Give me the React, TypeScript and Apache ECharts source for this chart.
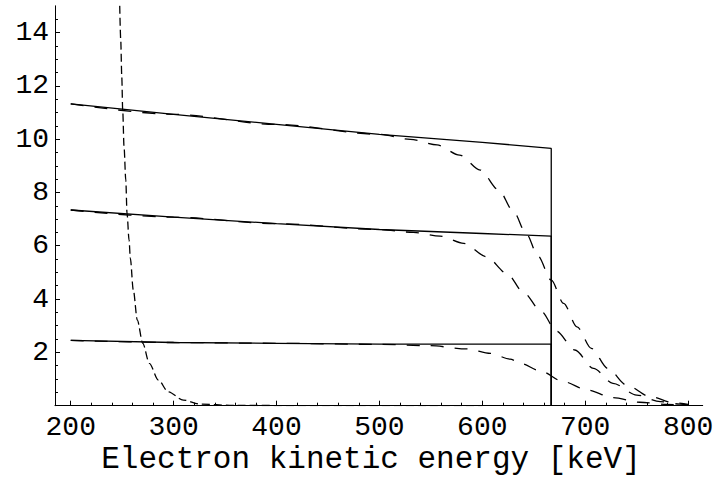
import React, { useEffect, useRef } from "react";
import * as echarts from "echarts";

// Solid curves (ideal spectra), ending with the vertical drop at the endpoint
const solidX = [200, 300, 400, 500, 600, 667, 667];
const topSolid = [11.32, 10.93, 10.55, 10.18, 9.88, 9.65, 0];
const midSolid = [7.34, 7.07, 6.83, 6.61, 6.46, 6.36, 0];
const lowSolid = [2.45, 2.37, 2.34, 2.31, 2.31, 2.31, 0];

// Long-dashed curves (resolution-smeared spectra)
const topDashX = [200, 300, 400, 500, 530, 556, 578, 598, 616, 630, 643, 654, 667, 679, 692, 706, 722, 740, 763, 786, 800];
const topDashY = [11.32, 10.93, 10.55, 10.18, 9.99, 9.78, 9.4, 8.84, 8.09, 7.3, 6.43, 5.62, 4.71, 3.84, 2.96, 2.15, 1.4, 0.78, 0.34, 0.11, 0.05];
const midDashX = [200, 300, 400, 500, 533, 559, 582, 604, 624, 640, 657, 672, 690, 708, 727, 750, 773, 792, 800];
const midDashY = [7.34, 7.07, 6.83, 6.61, 6.5, 6.36, 6.09, 5.59, 4.96, 4.25, 3.55, 2.8, 2.09, 1.4, 0.84, 0.4, 0.15, 0.06, 0.03];
const lowDashX = [200, 300, 400, 500, 549, 585, 608, 627, 637, 656, 679, 702, 727, 753, 779, 799];
const lowDashY = [2.45, 2.37, 2.34, 2.3, 2.25, 2.13, 1.96, 1.75, 1.59, 1.31, 0.9, 0.59, 0.3, 0.13, 0.05, 0.01];

// Short-dashed background curve
const bgX = [247.6, 248.6, 249.6, 250.5, 251.8, 253.5, 254.7, 256.7, 257.9, 260.8, 264.7, 270, 276.4, 285.1, 294.8, 309.4, 325.7, 357.7, 450, 550, 600];
const bgY = [15.0, 13.71, 12.34, 11.09, 9.71, 8.46, 7.21, 6.21, 5.53, 4.34, 3.21, 2.34, 1.59, 0.96, 0.52, 0.21, 0.06, 0.01, 0, 0, 0];

// Ticks
const xMajor = [200, 300, 400, 500, 600, 700, 800];
const xMinor = [220, 240, 260, 280, 320, 340, 360, 380, 420, 440, 460, 480, 520, 540, 560, 580, 620, 640, 660, 680, 720, 740, 760, 780];
const yMajor = [0, 2, 4, 6, 8, 10, 12, 14];
const yLabels = [2, 4, 6, 8, 10, 12, 14];
const yMinor = [0.5, 1, 1.5, 2.5, 3, 3.5, 4.5, 5, 5.5, 6.5, 7, 7.5, 8.5, 9, 9.5, 10.5, 11, 11.5, 12.5, 13, 13.5, 14.5];

const xTitle = "Electron kinetic energy [keV]";

const FONT = "'Courier New', Courier, 'Liberation Mono', monospace";

const zip = (xs: number[], ys: number[]) => xs.map((x, i) => [x, ys[i]]);

export default function App() {
  const ref = useRef<HTMLDivElement>(null);
  useEffect(() => {
    document.body.style.margin = "0";
    const chart = echarts.init(ref.current!, null, { renderer: "svg" });
    const xMin = 184.7;
    const xMax = 814.2;
    const solid = (d: number[][]) => ({
      type: "line",
      data: d,
      symbol: "none",
      lineStyle: { color: "#000", width: 1.3 },
      xAxisIndex: 0,
      yAxisIndex: 0,
      z: 3,
    });
    const dashed = (d: number[][], dash: number[]) => ({
      type: "line",
      data: d,
      symbol: "none",
      smooth: 0.3,
      smoothMonotone: "x",
      lineStyle: { color: "#000", width: 1.3, type: dash },
      xAxisIndex: 0,
      yAxisIndex: 0,
      z: 2,
    });
    chart.setOption({
      animation: false,
      backgroundColor: "#fff",
      grid: {
        left: 55,
        top: 5.8,
        width: 647.7,
        height: 399.9,
        containLabel: false,
        outerBoundsMode: "none",
      },
      xAxis: [
        {
          type: "value",
          min: xMin,
          max: xMax,
          position: "bottom",
          axisLine: { show: true, onZero: false, lineStyle: { color: "#000", width: 1 } },
          axisTick: { show: true, inside: true, length: 5, customValues: xMajor, lineStyle: { color: "#000" } },
          axisLabel: {
            show: true,
            customValues: xMajor,
            margin: 8,
            color: "#000",
            fontFamily: FONT,
            fontSize: 28,
          },
          splitLine: { show: false },
        },
        {
          type: "value",
          min: xMin,
          max: xMax,
          position: "bottom",
          axisLine: { show: false },
          axisTick: { show: true, inside: true, length: 3, customValues: xMinor, lineStyle: { color: "#000" } },
          axisLabel: { show: false },
          splitLine: { show: false },
        },
      ],
      yAxis: [
        {
          type: "value",
          min: 0,
          max: 15,
          position: "left",
          axisLine: { show: true, onZero: false, lineStyle: { color: "#000", width: 1 } },
          axisTick: { show: true, inside: true, length: 5, customValues: yMajor, lineStyle: { color: "#000" } },
          axisLabel: {
            show: true,
            customValues: yLabels,
            margin: 6,
            color: "#000",
            fontFamily: FONT,
            fontSize: 28,
          },
          splitLine: { show: false },
        },
        {
          type: "value",
          min: 0,
          max: 15,
          position: "left",
          axisLine: { show: false },
          axisTick: { show: true, inside: true, length: 3, customValues: yMinor, lineStyle: { color: "#000" } },
          axisLabel: { show: false },
          splitLine: { show: false },
        },
      ],
      graphic: [
        {
          type: "text",
          x: 371,
          y: 459,
          style: {
            text: xTitle,
            fontFamily: FONT,
            fontSize: 31,
            fill: "#000",
            textAlign: "center",
            textVerticalAlign: "middle",
          },
        },
      ],
      series: [
        solid(zip(solidX, topSolid)),
        solid(zip(solidX, midSolid)),
        solid(zip(solidX, lowSolid)),
        dashed(zip(topDashX, topDashY), [13, 11]),
        dashed(zip(midDashX, midDashY), [13, 11]),
        dashed(zip(lowDashX, lowDashY), [13, 11]),
        dashed(zip(bgX, bgY), [8, 4]),
      ],
    });
    return () => chart.dispose();
  }, []);
  return (
    <div
      ref={ref}
      style={{ position: "fixed", left: 0, top: 0, width: 717, height: 478, background: "#fff" }}
    />
  );
}
